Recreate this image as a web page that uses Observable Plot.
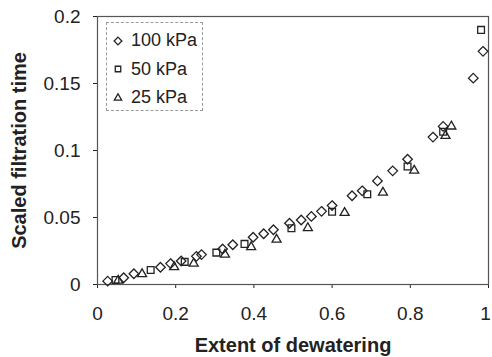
<!DOCTYPE html>
<html>
<head>
<meta charset="utf-8">
<script src="https://cdn.jsdelivr.net/npm/d3@7"></script>
<script src="https://cdn.jsdelivr.net/npm/@observablehq/plot@0.6"></script>
<style>
  html, body { margin: 0; padding: 0; background: white; }
  #wrap { position: relative; width: 492px; height: 357px; overflow: hidden; }
  #legend { position: absolute; left: 106px; top: 22px; width: 97px; height: 89px;
    border: 1px dashed #999; box-sizing: border-box; font-family: "Liberation Sans", Arial, sans-serif;
    font-size: 18px; color: #222; background: white; }
  #legend .row { position: absolute; left: 5px; display: flex; align-items: center; }
  #legend svg { margin-right: 7px; }
</style>
</head>
<body>
<div id="wrap"><div id="legend"></div></div>
<script>
// Series: 100 kPa (diamonds)
const x100 = [0.026, 0.067, 0.093, 0.161, 0.187, 0.214, 0.253, 0.266, 0.320, 0.346, 0.398, 0.425, 0.450, 0.491, 0.521, 0.547, 0.573, 0.600, 0.651, 0.677, 0.716, 0.755, 0.793, 0.858, 0.884, 0.961, 0.986];
const y100 = [0.0025, 0.005, 0.008, 0.0129, 0.0156, 0.0175, 0.021, 0.0223, 0.0265, 0.0297, 0.0353, 0.0379, 0.0409, 0.0457, 0.0481, 0.0508, 0.0546, 0.0589, 0.0662, 0.0699, 0.0773, 0.0848, 0.0935, 0.110, 0.118, 0.154, 0.174];
// Series: 50 kPa (squares)
const x50 = [0.046, 0.136, 0.223, 0.304, 0.376, 0.496, 0.600, 0.690, 0.793, 0.884, 0.981];
const y50 = [0.0033, 0.0108, 0.0169, 0.0238, 0.0303, 0.042, 0.0543, 0.0674, 0.088, 0.114, 0.190];
// Series: 25 kPa (triangles)
const x25 = [0.053, 0.114, 0.196, 0.246, 0.326, 0.393, 0.458, 0.538, 0.632, 0.730, 0.810, 0.890, 0.905];
const y25 = [0.003, 0.0078, 0.013, 0.0156, 0.0223, 0.0279, 0.0335, 0.0422, 0.0535, 0.0686, 0.085, 0.111, 0.118];

const seriesNames = ["100 kPa", "50 kPa", "25 kPa"];
const seriesSymbols = ["diamond2", "square2", "triangle2"];
const xTicks = [0, 0.2, 0.4, 0.6, 0.8, 1];
const yTicks = [0, 0.05, 0.1, 0.15, 0.2];

const data = [
  ...x100.map((x, i) => ({x, y: y100[i], s: seriesNames[0]})),
  ...x50.map((x, i) => ({x, y: y50[i], s: seriesNames[1]})),
  ...x25.map((x, i) => ({x, y: y25[i], s: seriesNames[2]}))
];

const plot = Plot.plot({
  width: 492, height: 357,
  marginLeft: 97, marginRight: 4, marginTop: 16, marginBottom: 73,
  style: {fontFamily: "'Liberation Sans', Arial, sans-serif", fontSize: "19px", color: "#222", background: "white", overflow: "visible"},
  x: {domain: [0, 1], ticks: xTicks, tickFormat: d => String(d), tickSize: 4, tickPadding: 18,
      label: "Extent of dewatering", labelAnchor: "center", labelOffset: 67, labelArrow: "none"},
  y: {domain: [0, 0.2], ticks: yTicks, tickFormat: d => String(d), tickSize: 4, tickPadding: 13,
      label: "Scaled filtration time", labelAnchor: "center", labelOffset: 86, labelArrow: "none"},
  symbol: {domain: seriesNames, range: seriesSymbols},
  marks: [
    Plot.frame({stroke: "#555", strokeWidth: 1.2}),
    Plot.dot(data, {x: "x", y: "y", symbol: "s", r: 4.3, stroke: "#222", strokeWidth: 1.3, fill: "none"})
  ]
});
document.getElementById("wrap").prepend(plot);
const labels = d3.select(plot).selectAll('[aria-label$="axis label"] text, [aria-label$="axis label"]');
labels.style("font-weight", "bold").style("font-size", "20px");
d3.select(plot).selectAll('[aria-label$="axis label"] text').each(function() {
  this.textContent = this.textContent.replace(/\s*[→↑←↓]\s*/g, "");
});
// nudge the last x tick label ("1") so it stays inside the picture
const xTickTexts = d3.select(plot).selectAll('[aria-label="x-axis tick label"] text').nodes();
if (xTickTexts.length) xTickTexts[xTickTexts.length - 1].setAttribute("dx", "-3");

// Legend
const lg = document.getElementById("legend");
seriesNames.forEach((name, i) => {
  const row = document.createElement("div");
  row.className = "row";
  row.style.top = (7 + i * 28.5) + "px";
  const sym = {diamond2: d3.symbolDiamond2, square2: d3.symbolSquare2, triangle2: d3.symbolTriangle2}[seriesSymbols[i]];
  const svg = d3.create("svg").attr("width", 12).attr("height", 12);
  svg.append("path").attr("transform", "translate(6,6)")
    .attr("d", d3.symbol(sym, 38)()).attr("fill", "none").attr("stroke", "#222").attr("stroke-width", 1.3);
  row.appendChild(svg.node());
  const span = document.createElement("span");
  span.textContent = name;
  row.appendChild(span);
  lg.appendChild(row);
});
</script>
</body>
</html>
